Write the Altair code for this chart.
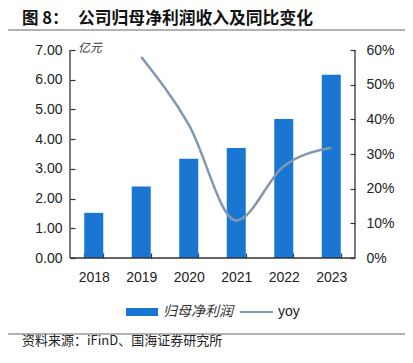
import altair as alt
import pandas as pd

years = ["2018", "2019", "2020", "2021", "2022", "2023"]
profit = [1.52, 2.41, 3.34, 3.70, 4.68, 6.17]
yoy = [None, 0.58, 0.385, 0.108, 0.265, 0.318]
left_ticks = [0, 1, 2, 3, 4, 5, 6, 7]
right_ticks = [0, 0.1, 0.2, 0.3, 0.4, 0.5, 0.6]

title_num = "图 8："
title_main = "公司归母净利润收入及同比变化"
unit_label = "亿元"
source_text = "资料来源：iFinD、国海证券研究所"
legend_bar = "归母净利润"
legend_line = "yoy"

BAR = "#1976d2"
LINE = "#8497b0"
AX = "#333333"
W, H = 285, 208
NUM_FONT = "Liberation Sans"
CJK = "Noto Sans CJK SC"

df = pd.DataFrame({"year": years, "profit": profit, "yoy": yoy})

x_enc = alt.X(
    "year:N", sort=years,
    scale=alt.Scale(paddingInner=0.6, paddingOuter=0.3),
    axis=alt.Axis(title=None, labelAngle=0, domain=False, tickBand="extent",
                  tickSize=5, offset=-5, labelPadding=12, labelFont=NUM_FONT,
                  labelFontSize=14, labelColor="#222222", tickColor=AX, tickWidth=1.2),
)

bars = alt.Chart(df).mark_bar(color=BAR).encode(
    x=x_enc,
    y=alt.Y("profit:Q", scale=alt.Scale(domain=[0, 7], nice=False),
            axis=alt.Axis(title=None, values=left_ticks, format=".2f", domain=False,
                          grid=False, tickSize=5, offset=-5, labelPadding=8,
                          labelFont=NUM_FONT, labelFontSize=14, labelColor="#222222",
                          tickColor=AX, tickWidth=1.2)),
)

line = alt.Chart(df).mark_line(color=LINE, strokeWidth=2.5, interpolate="monotone").encode(
    x=alt.X("year:N", sort=years),
    y=alt.Y("yoy:Q", scale=alt.Scale(domain=[0, 0.6], nice=False),
            axis=alt.Axis(title=None, orient="right", values=right_ticks, format=".0%",
                          domain=False, grid=False, tickSize=5, offset=-5, labelPadding=11,
                          labelFont=NUM_FONT, labelFontSize=14, labelColor="#222222",
                          tickColor=AX, tickWidth=1.2)),
)

deco = alt.Chart(pd.DataFrame({"a": [0]}))
left_dom = deco.mark_rule(color=AX, strokeWidth=1.3).encode(
    x=alt.value(0), y=alt.value(0), y2=alt.value(H))
right_dom = deco.mark_rule(color=AX, strokeWidth=1.3).encode(
    x=alt.value(W), y=alt.value(0), y2=alt.value(H))
bottom_dom = deco.mark_rule(color=AX, strokeWidth=1.3).encode(
    x=alt.value(0), x2=alt.value(W), y=alt.value(H))

top_sep = deco.mark_rule(color="#666666", strokeWidth=1.2).encode(
    x=alt.value(-62), x2=alt.value(335), y=alt.value(-20))
bot_sep = deco.mark_rule(color="#666666", strokeWidth=1.2).encode(
    x=alt.value(-62), x2=alt.value(335), y=alt.value(284))

t1 = deco.mark_text(align="left", baseline="middle", font=CJK, fontSize=16.5,
                    fontWeight="bold", color="#111111").encode(
    x=alt.value(-48), y=alt.value(-31.5), text=alt.value(title_num))
t2 = deco.mark_text(align="left", baseline="middle", font=CJK, fontSize=16.8,
                    fontWeight="bold", color="#111111").encode(
    x=alt.value(8), y=alt.value(-31.5), text=alt.value(title_main))
unit = deco.mark_text(align="left", baseline="middle", font=CJK, fontSize=12,
                      fontStyle="italic", color="#333333").encode(
    x=alt.value(8), y=alt.value(-2), text=alt.value(unit_label))
src = deco.mark_text(align="left", baseline="middle", font=CJK, fontSize=13,
                     color="#222222").encode(
    x=alt.value(-48), y=alt.value(291), text=alt.value(source_text))

lg_rect = deco.mark_rect(color=BAR).encode(
    x=alt.value(56), x2=alt.value(88), y=alt.value(258), y2=alt.value(266))
lg_t1 = deco.mark_text(align="left", baseline="middle", font=CJK, fontSize=14,
                       fontStyle="italic", color="#333333").encode(
    x=alt.value(93), y=alt.value(262), text=alt.value(legend_bar))
lg_line = deco.mark_rule(color=LINE, strokeWidth=2).encode(
    x=alt.value(170), x2=alt.value(203), y=alt.value(262))
lg_t2 = deco.mark_text(align="left", baseline="middle", font=NUM_FONT, fontSize=14,
                       color="#222222").encode(
    x=alt.value(208), y=alt.value(262), text=alt.value(legend_line))

chart = alt.layer(
    bars, line, left_dom, right_dom, bottom_dom, top_sep, bot_sep,
    t1, t2, unit, src, lg_rect, lg_t1, lg_line, lg_t2
).resolve_scale(y="independent").properties(
    width=W, height=H,
    autosize=alt.AutoSizeParams(type="none"),
    padding={"left": 62, "top": 42, "right": 50, "bottom": 97},
    background="white",
).configure_view(stroke=None)

chart.save("out.html", embed_options={"renderer": "svg", "actions": False})
